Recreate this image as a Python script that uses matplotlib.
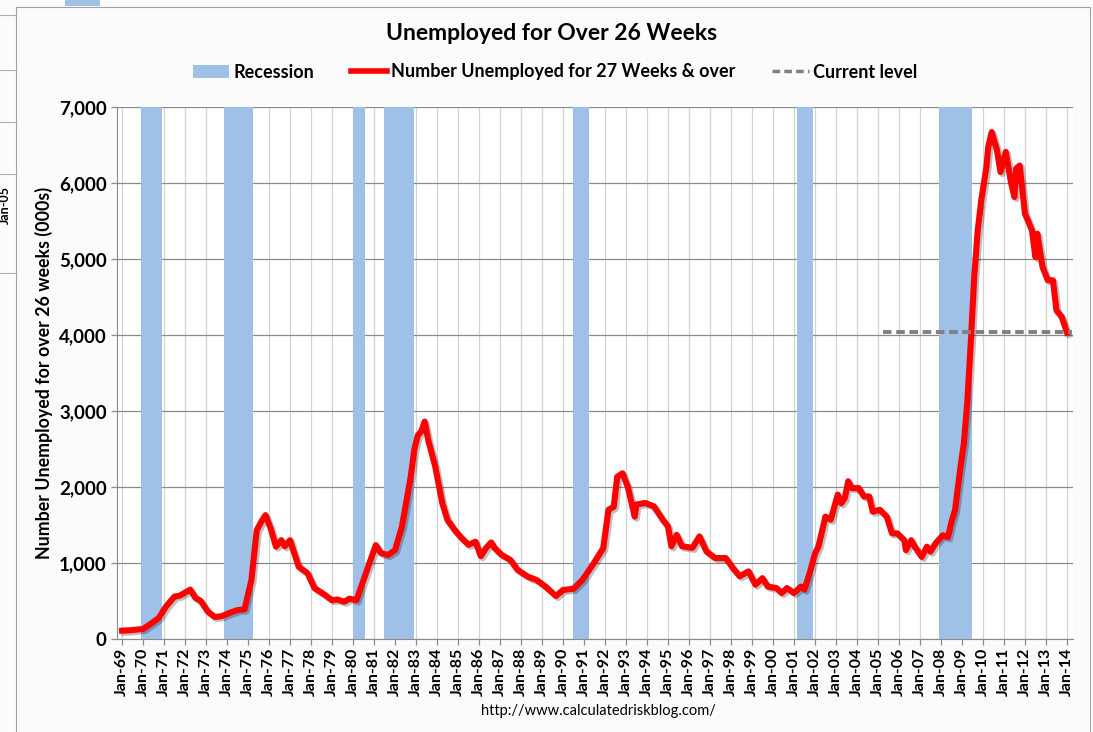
import matplotlib
matplotlib.use("Agg")
import matplotlib.pyplot as plt
import matplotlib.dates as mdates
import matplotlib.patheffects as pe
from matplotlib.patches import Patch, Rectangle
from matplotlib.lines import Line2D
import pandas as pd
from datetime import datetime

# readings (thousands)
dates = ["1969-01", "1969-06", "1969-10", "1970-01", "1970-06", "1970-10",
         "1971-02", "1971-07", "1971-10", "1972-03", "1972-04", "1972-07",
         "1972-10", "1973-02", "1973-06", "1973-10", "1974-02", "1974-07",
         "1974-11", "1975-03", "1975-06", "1975-09", "1975-11", "1976-02",
         "1976-05", "1976-08", "1976-10", "1977-01", "1977-06", "1977-11",
         "1978-03", "1978-09", "1979-01", "1979-04", "1979-08", "1979-11",
         "1980-03", "1980-07", "1980-11", "1981-02", "1981-05", "1981-09",
         "1982-01", "1982-05", "1982-07", "1982-10", "1982-12", "1983-02",
         "1983-04", "1983-06", "1983-08", "1983-12", "1984-04", "1984-07",
         "1984-11", "1985-03", "1985-07", "1985-11", "1986-02", "1986-05",
         "1986-08", "1986-10", "1987-02", "1987-07", "1987-11", "1988-05",
         "1988-10", "1989-03", "1989-09", "1990-01", "1990-07", "1990-12",
         "1991-06", "1991-12", "1992-03", "1992-06", "1992-08", "1992-11",
         "1993-02", "1993-06", "1993-07", "1993-12", "1994-05", "1994-10",
         "1995-01", "1995-03", "1995-06", "1995-09", "1996-03", "1996-07",
         "1996-11", "1997-04", "1997-10", "1998-02", "1998-06", "1998-11",
         "1999-03", "1999-07", "1999-10", "2000-03", "2000-06", "2000-09",
         "2001-01", "2001-05", "2001-07", "2001-10", "2002-01", "2002-03",
         "2002-07", "2002-10", "2003-02", "2003-04", "2003-06", "2003-08",
         "2003-10", "2004-02", "2004-05", "2004-08", "2004-10", "2005-02",
         "2005-06", "2005-09", "2005-12", "2006-04", "2006-05", "2006-08",
         "2006-10", "2007-02", "2007-05", "2007-07", "2007-10", "2008-02",
         "2008-05", "2008-07", "2008-09", "2008-12", "2009-02", "2009-04",
         "2009-06", "2009-08", "2009-10", "2009-12", "2010-03", "2010-04",
         "2010-06", "2010-09", "2010-11", "2011-02", "2011-05", "2011-07",
         "2011-08", "2011-10", "2012-01", "2012-05", "2012-07", "2012-08",
         "2012-11", "2013-02", "2013-05", "2013-07", "2013-10", "2014-01"]
values = [110, 115, 125, 130, 210, 275,
          425, 557, 570, 635, 650, 540,
          500, 360, 290, 300, 340, 380,
          390, 775, 1430, 1560, 1630, 1450,
          1215, 1300, 1220, 1300, 950, 865,
          670, 580, 510, 520, 490, 530,
          510, 775, 1040, 1235, 1130, 1105,
          1170, 1480, 1740, 2135, 2490, 2680,
          2730, 2860, 2620, 2270, 1790, 1565,
          1435, 1330, 1240, 1280, 1090, 1195,
          1270, 1195, 1105, 1040, 910, 820,
          775, 690, 565, 645, 660, 775,
          975, 1195, 1700, 1740, 2135, 2180,
          2000, 1610, 1770, 1790, 1745, 1570,
          1480, 1220, 1370, 1220, 1200, 1350,
          1150, 1065, 1065, 935, 825, 890,
          715, 800, 690, 670, 605, 670,
          605, 690, 650, 870, 1125, 1215,
          1610, 1570, 1900, 1785, 1850, 2075,
          1985, 1985, 1875, 1875, 1675, 1700,
          1610, 1390, 1390, 1300, 1170, 1300,
          1215, 1080, 1215, 1150, 1260, 1365,
          1340, 1540, 1693, 2240, 2570, 3100,
          3886, 4763, 5377, 5772, 6210, 6470,
          6670, 6430, 6145, 6410, 6013, 5816,
          6190, 6230, 5597, 5377, 5026, 5333,
          4895, 4720, 4720, 4325, 4237, 4030]

rec_start = ["1969-12", "1973-11", "1980-01", "1981-07", "1990-07", "2001-03", "2007-12"]
rec_end = ["1970-11", "1975-03", "1980-07", "1982-11", "1991-03", "2001-11", "2009-06"]

current_level = 4040
current_from = "2005-04"
current_to = "2014-04"

font = "Lato"

fig = plt.figure(figsize=(10.93, 7.32), dpi=100)
fig.patch.set_facecolor("#fbfbfb")

# bits of another chart peeking out at the top left
for yy in [15, 70, 122, 174, 273]:
    fig.add_artist(Line2D([0, 16 / 1093], [1 - yy / 732] * 2, color="#b0b0b0", lw=0.8))
fig.add_artist(Rectangle((65 / 1093, 1 - 6 / 732), 35 / 1093, 6 / 732, color="#9fc1e7", lw=0))
fig.text(5 / 1093, 1 - 205 / 732, "Jan-05", rotation=90, ha="center", va="center",
         fontsize=9, fontweight="bold", family=font)
# frame of the chart
fig.add_artist(Rectangle((16 / 1093, -0.01), 1074 / 1093, 1.01 - 7 / 732, fill=False,
                         edgecolor="#a0a0a0", lw=0.8))

ax = fig.add_axes([117 / 1093, 93 / 732, (1073 - 117) / 1093, (639 - 107) / 732])
ax.set_facecolor("white")

x = pd.to_datetime(dates)
for s, e in zip(rec_start, rec_end):
    s = pd.to_datetime(s)
    e = pd.to_datetime(e) + pd.offsets.MonthEnd(0)
    ax.axvspan(s, e, color="#9fc1e7", lw=0, zorder=1)

ax.plot(x, values, color="#ff0000", lw=4.4, zorder=4, solid_joinstyle="round",
        path_effects=[pe.SimpleLineShadow(offset=(1.5, -1.5), alpha=0.25), pe.Normal()])
ax.plot(pd.to_datetime([current_from, current_to]), [current_level, current_level],
        color="#808080", lw=2.8, dashes=(2.2, 1.2), zorder=5)

ax.set_xlim(datetime(1968, 10, 5), datetime(2014, 4, 15))
ax.set_ylim(0, 7000)
ax.xaxis.set_major_locator(mdates.YearLocator(1, month=1, day=1))
ax.xaxis.set_major_formatter(mdates.DateFormatter("%b-%y"))
ax.set_yticks(range(0, 7001, 1000))
ax.set_yticklabels(["{:,}".format(v) for v in range(0, 7001, 1000)])

ax.grid(axis="x", color="#d4d4d4", lw=0.9, zorder=0)
ax.grid(axis="y", color="#8a8a8a", lw=0.9, zorder=2)
ax.set_axisbelow(True)
for side in ["top", "right"]:
    ax.spines[side].set_visible(False)
ax.spines["left"].set_color("#8a8a8a")
ax.spines["bottom"].set_color("#8a8a8a")
ax.tick_params(axis="both", color="#8a8a8a", length=4, width=0.9)
ax.tick_params(axis="x", labelrotation=90, pad=2)
for lab in ax.get_xticklabels():
    lab.set_fontsize(11.5)
    lab.set_fontweight("bold")
    lab.set_family(font)
for lab in ax.get_yticklabels():
    lab.set_fontsize(13.5)
    lab.set_fontweight("bold")
    lab.set_family(font)

ax.set_ylabel("Number Unemployed for over 26 weeks (000s)", fontsize=12.8, fontweight="bold",
              family=font, labelpad=4)

fig.text(552 / 1093, 1 - 33 / 732, "Unemployed for Over 26 Weeks", ha="center", va="center",
         fontsize=16.5, fontweight="bold", family=font)
fig.text(598 / 1093, 1 - 711 / 732, "http://www.calculatedriskblog.com/", ha="center",
         va="center", fontsize=10.5, family=font)

handles = [Patch(facecolor="#9fc1e7", edgecolor="none"),
           Line2D([0], [0], color="#ff0000", lw=4),
           Line2D([0], [0], color="#808080", lw=2.5, dashes=(2.2, 1.2))]
labels = ["Recession", "Number Unemployed for 27 Weeks & over", "Current level"]
leg = fig.legend(handles, labels, loc="center", bbox_to_anchor=(555 / 1093, 1 - 72 / 732),
                 ncol=3, frameon=False, handlelength=2.0, handletextpad=0.22,
                 columnspacing=2.05, prop={"family": font, "weight": "bold", "size": 13})

fig.savefig("out.png", dpi=100, facecolor=fig.get_facecolor())
